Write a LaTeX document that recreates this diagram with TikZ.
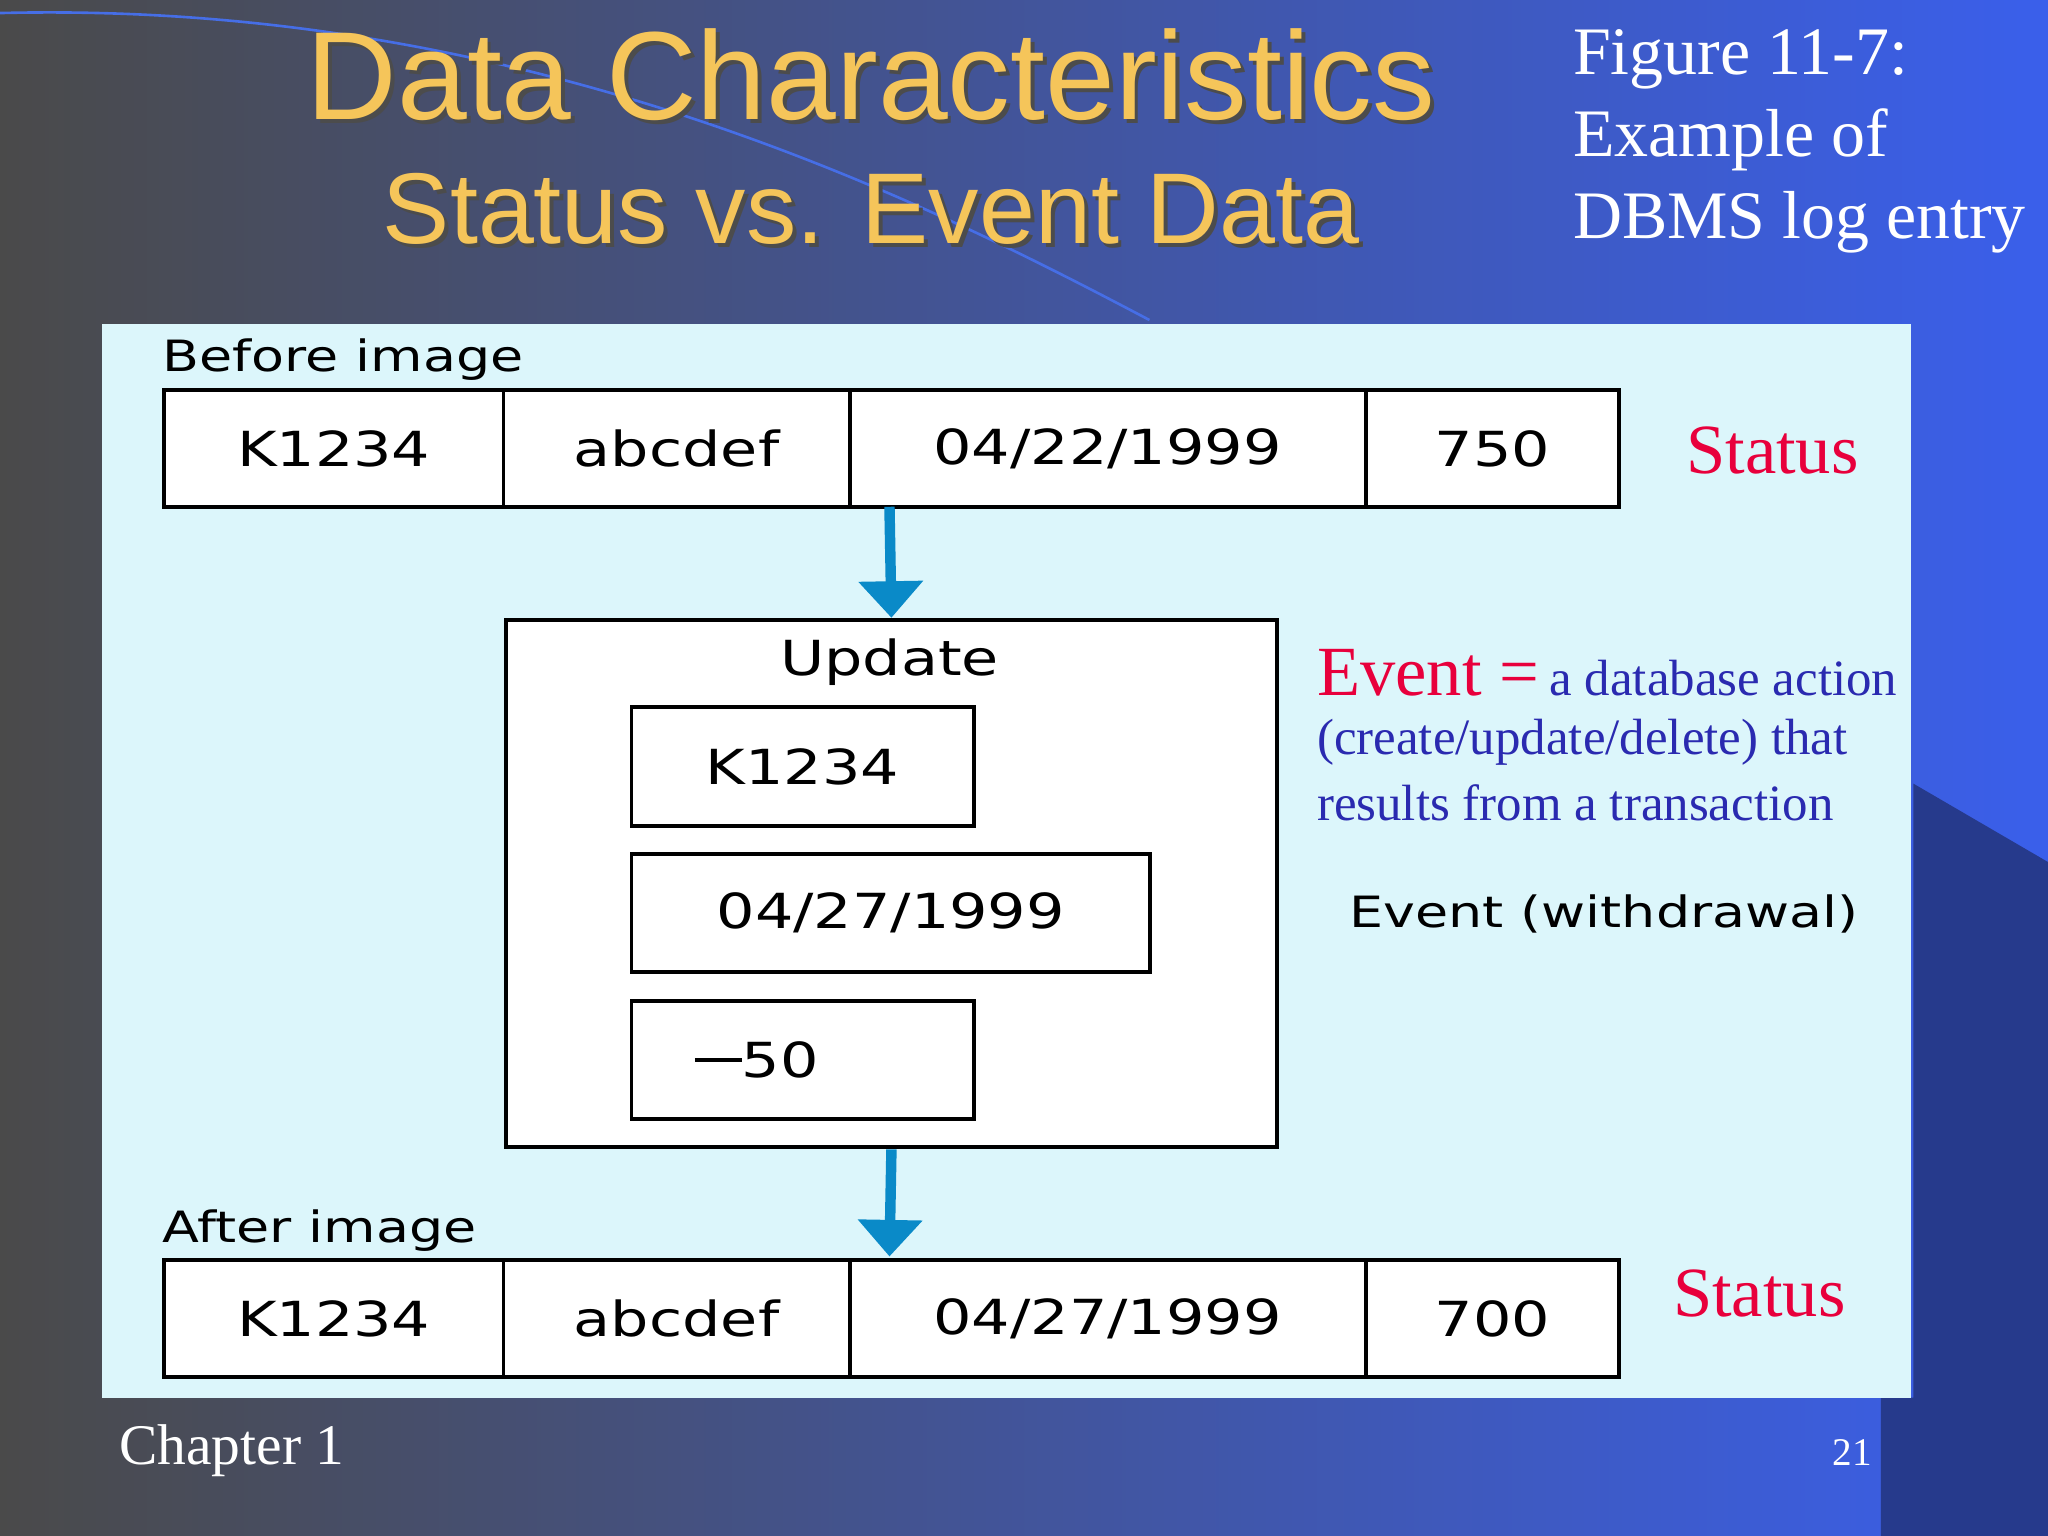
\documentclass[tikz,border=0pt]{standalone}
\usepackage{fontspec}
\setmainfont{Liberation Serif}
\newfontfamily\titlefont{Liberation Sans}
\newfontfamily\boxfont[FakeStretch=1.25]{DejaVu Sans}
\usetikzlibrary{arrows.meta,shadows}
\definecolor{ttl}{HTML}{F5C55A}
\definecolor{panel}{HTML}{DCF6FB}
\definecolor{arr}{HTML}{0A8AC8}
\definecolor{stred}{HTML}{E8003C}
\definecolor{evblue}{HTML}{2A2AB0}
\definecolor{bgR}{HTML}{3A5FEB}
\definecolor{bgL}{HTML}{4A4A4A}
\definecolor{navy}{HTML}{263A8C}
\definecolor{swoosh}{HTML}{466EE6}
\tikzset{
  cell/.style={draw=black,line width=1.5pt,fill=white,inner sep=0pt,font=\boxfont\fontsize{18.5}{22}\selectfont},
  lbl/.style={font=\boxfont\fontsize{16.5}{20}\selectfont,anchor=west,inner sep=0pt},
  flow/.style={draw=arr,line width=4pt,-{Triangle[length=14pt,width=24pt]}},
  stat/.style={text=stred,font=\fontsize{27}{30}\selectfont,inner sep=0pt},
}
\newcommand{\cellbox}[6]{\node[cell,minimum width=#3*0.5pt-#1*0.5pt,minimum height=#4*0.5pt-#2*0.5pt,anchor=north west] (#5) at (#1,#2) {#6};}
\begin{document}
\begin{tikzpicture}[x=0.5pt,y=-0.5pt]
\useasboundingbox (0,0) rectangle (1568,1176);
\shade[left color=bgL,right color=bgR] (0,0) rectangle (1568,1176);
\fill[navy] (1465,600) -- (1568,660) -- (1568,1176) -- (1440,1176) -- (1440,1070) -- (1465,1070) -- cycle;
\draw[swoosh,line width=1pt] (0,10) .. controls (400,0) and (700,150) .. (880,245);
\fill[panel] (78,248) rectangle (1463,1070);
% titles
\node[text=black!70,font=\titlefont\fontsize{48}{52}\selectfont] at (670,60) {Data Characteristics};
\node[text=ttl,font=\titlefont\fontsize{48}{52}\selectfont] (t1) at (667,57) {Data Characteristics};
\node[text=black!70,font=\titlefont\fontsize{38.5}{44}\selectfont] at (670,163) {Status vs. Event Data};
\node[text=ttl,font=\titlefont\fontsize{38.5}{44}\selectfont] (t2) at (667,160) {Status vs. Event Data};
\node[text=white,font=\fontsize{26}{31.5}\selectfont,align=left,anchor=north west,inner sep=0pt] (fig) at (1204,22) {Figure 11-7:\\Example of\\DBMS log entry};
% before row
\node[lbl] (bi) at (124,275) {Before image};
\cellbox{124}{297}{384}{387}{b1}{K1234}
\cellbox{384}{297}{649}{387}{b2}{abcdef}
\cellbox{649}{297}{1044}{387}{b3}{04/22/1999}
\cellbox{1044}{297}{1238}{387}{b4}{750}
\node[stat] (s1) at (1357,345) {Status};
% update
\cellbox{386}{473}{976}{877}{up}{}
\node[font=\boxfont\fontsize{18.5}{22}\selectfont] (upl) at (681,507) {Update};
\cellbox{482}{540}{744}{631}{u1}{K1234}
\cellbox{482}{652}{879}{743}{u2}{04/27/1999}
\cellbox{482}{765}{744}{855}{u3}{\hspace*{-35pt}\rule[6pt]{18pt}{1.5pt}50}
\draw[flow] (681,388) coordinate (a0) -- (up.north);
% after row
\node[lbl] (ai) at (124,942) {After image};
\cellbox{124}{963}{384}{1053}{c1}{K1234}
\cellbox{384}{963}{649}{1053}{c2}{abcdef}
\cellbox{649}{963}{1044}{1053}{c3}{04/27/1999}
\cellbox{1044}{963}{1238}{1053}{c4}{700}
\draw[flow] (up.south) -- (681,962) coordinate (a1);
\node[stat] (s2) at (1347,990) {Status};
% event text
\node[anchor=west,inner sep=0pt] (ev) at (1008,515) {\textcolor{stred}{\fontsize{27}{30}\selectfont Event =}\hspace{4pt}\textcolor{evblue}{\fontsize{19.5}{24}\selectfont a database action}};
\node[anchor=west,inner sep=0pt,text=evblue,font=\fontsize{19.5}{24}\selectfont] (ev2) at (1008,568) {(create/update/delete) that};
\node[anchor=west,inner sep=0pt,text=evblue,font=\fontsize{19.5}{24}\selectfont] (ev3) at (1008,615) {results from a transaction};
\node[font=\boxfont\fontsize{16.5}{19}\selectfont] (ew) at (1228,700) {Event (withdrawal)};
% footer
\node[anchor=west,inner sep=0pt,text=white,font=\fontsize{22}{26}\selectfont] (ch) at (91,1111) {Chapter 1};
\node[text=white,font=\fontsize{15}{18}\selectfont] (pg) at (1418,1112) {21};
\end{tikzpicture}
\end{document}
